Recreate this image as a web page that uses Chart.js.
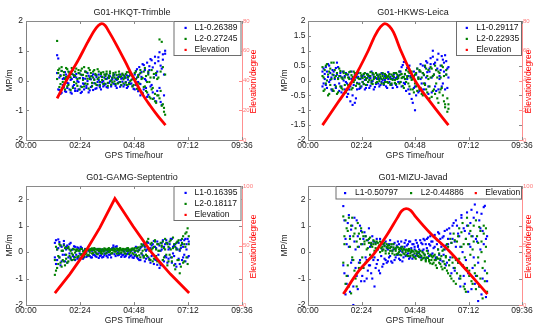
<!DOCTYPE html>
<html><head><meta charset="utf-8">
<script src="https://cdn.jsdelivr.net/npm/chart.js@4.4.1/dist/chart.umd.min.js"></script>
<style>
html,body{margin:0;padding:0;background:#fff;}
#wrap{position:relative;width:550px;height:331px;overflow:hidden;background:#fff;}
canvas{position:absolute;}
</style></head><body>
<div id="wrap">
<canvas id="c1" width="275" height="165" style="left:0;top:0"></canvas>
<canvas id="c2" width="275" height="165" style="left:275px;top:0"></canvas>
<canvas id="c3" width="275" height="166" style="left:0;top:165px"></canvas>
<canvas id="c4" width="275" height="166" style="left:275px;top:165px"></canvas>
</div>
<script>
// ---------- shared axis ticks ----------
const timeTicks = [0,144,288,432,576];               // minutes
const timeLabels = ['00:00','02:24','04:48','07:12','09:36'];
const mpTicksA = [-2,-1,0,1,2];
const mpLabelsA = ['-2','-1','0','1','2'];
const mpTicksB = [-2,-1.5,-1,-0.5,0,0.5,1,1.5,2];
const mpLabelsB = ['-2','-1.5','-1','-0.5','0','0.5','1','1.5','2'];
const elevTicksA = [0,20,40,60,80];
const elevTicksB = [0,50,100];

// ---------- HKQT (Trimble) ----------
const hkqtTitle = 'G01-HKQT-Trimble';
const hkqtLabels = ['L1-0.26389','L2-0.27245'];
const hkqtT = [83,86,89,92,95,98,101,104,107,110,113,116,119,122,125,128,131,134,137,140,143,146,149,152,155,158,161,164,167,170,173,176,179,182,185,188,191,194,197,200,203,206,209,212,215,218,221,224,227,230,233,236,239,242,245,248,251,254,257,260,263,266,269,272,275,278,281,284,287,290,293,296,299,302,305,308,311,314,317,320,323,326,329,332,335,338,341,344,347,350,353,356,359,362,365,368,371];
const hkqtL1 = [.85,.74,-.32,.18,-.41,.05,-.22,.28,-.38,-.08,
 .15,-.3,.02,-.44,.2,-.15,-.27,.1,-.35,-.05,
 .24,-.2,-.38,.08,-.12,.3,-.25,-.02,.16,-.33,
 .04,-.18,.21,-.09,-.28,.12,-.16,.02,-.23,.14,
 -.06,-.2,.1,-.12,.05,-.24,.17,-.03,-.15,.08,
 -.1,.2,-.18,.02,-.08,.13,-.21,.06,-.04,.18,
 -.14,.09,-.25,.03,.15,-.11,.22,-.19,.07,-.3,
 .32,.1,-.36,.45,-.12,.28,-.42,.52,.05,-.25,
 .6,-.48,.35,.72,-.15,.44,-.6,.8,.18,-.35,
 .65,.95,-.72,.4,.88,-.5,1.0];
const hkqtL1b = [.25,-.3,.1,-.45,.32,-.15,.08,-.36,.2,-.25,
 -.1,.28,-.4,.05,-.2,.12,-.35,.22,-.02,-.3,
 .08,-.42,.18,-.1,-.3,.06,-.18,.25,-.4,.1,
 -.22,.15,-.32,.04,.18,-.26,-.05,.2,-.14,-.3,
 .12,-.02,-.16,.2,-.22,.09,-.08,.14,-.2,.03,
 .16,-.12,.05,-.25,.1,-.06,.2,-.15,.08,-.2,
 .12,-.05,.17,-.2,-.08,.24,-.1,.05,-.28,.2,
 -.15,.38,-.05,.2,-.5,.12,.55,-.3,.35,0,
 -.55,.25,.48,-.2,.68,-.4,.1,.58,-.7,.3,
 .78,-.25,.5,-.82,.7,.2,.9];
const hkqtL2 = [1.33,.25,.4,-.12,.32,-.25,.18,.05,.42,-.2,
 .3,.12,-.32,.22,.36,-.05,.15,.4,-.18,.25,
 .08,.33,-.22,.19,.45,-.1,.28,.06,-.27,.35,
 .14,-.08,.3,.02,.22,-.15,.38,.1,-.05,.26,
 .12,-.12,.2,.05,.3,-.08,.15,.24,-.14,.1,
 .18,-.03,.27,.07,-.1,.2,.12,-.16,.23,.04,
 .15,-.07,.28,.1,-.12,.2,.02,.16,-.15,.25,
 .05,-.28,.18,-.1,.35,-.4,.08,-.22,.42,-.35,
 -.05,.3,-.55,.1,-.3,-.62,.22,-.45,-.75,.05,
 -.5,1.38,-.35,1.3,-.8,-.92,-1.15];
const hkqtL2b = [.05,.35,-.22,.15,.45,-.05,.28,-.3,.12,.38,
 -.15,.25,.1,.42,-.25,.18,.3,-.1,.05,.35,
 -.3,.2,.4,.02,-.2,.3,.15,-.12,.42,.05,
 .25,-.2,.1,.35,-.1,.18,.05,.3,-.18,.22,
 .02,.28,-.1,.15,.22,-.18,.08,.3,0,-.06,
 .25,.1,-.12,.18,.05,.3,-.05,.14,.2,-.1,
 .08,.22,-.15,.12,.28,-.02,.18,-.2,.1,.02,
 .3,-.15,.12,-.32,.25,.05,-.45,.3,-.2,.15,
 -.4,.2,-.05,-.6,.35,-.25,.1,-.7,.25,-.5,
 .1,-.6,.3,-.85,.45,-1.05,.2];
const hkqtElevT = [83,110,140,165,182,193,202,211,222,240,264,288,310,330,352,372];
const hkqtElevD = [28,41,54,66,73.5,77,78.3,77,72.5,64.5,53,41,31,23.5,16,10];

// ---------- HKWS (Leica) ----------
const hkwsTitle = 'G01-HKWS-Leica';
const hkwsLabels = ['L1-0.29117','L2-0.22935'];
const hkwsT = [39,42,45,48,51,54,57,60,63,66,69,72,75,78,81,84,87,90,93,96,99,102,105,108,111,114,117,120,123,126,129,132,135,138,141,144,147,150,153,156,159,162,165,168,171,174,177,180,183,186,189,192,195,198,201,204,207,210,213,216,219,222,225,228,231,234,237,240,243,246,249,252,255,258,261,264,267,270,273,276,279,282,285,288,291,294,297,300,303,306,309,312,315,318,321,324,327,330,333,336,339,342,345,348,351,354,357,360,363,366,369,372,375,378];
const hkwsL1 = [.3,-.1,.22,.45,-.25,.12,.5,.02,-.3,.35,
 .18,-.15,.42,.6,.08,-.35,.25,-.2,.1,-.45,
 .15,-.05,-.55,.2,-.3,-.7,.05,-.82,-.15,.18,
 -.6,-.08,.12,-.28,.05,-.2,.15,-.12,.02,-.25,
 .22,-.05,.1,-.18,.3,-.02,.12,-.22,.08,.2,
 -.1,.05,-.15,.25,.02,-.08,.15,-.2,.1,.28,
 -.05,.12,-.15,.05,.2,-.1,.08,-.22,.15,.3,
 -.05,.45,.1,.62,-.12,.35,.05,-.3,.5,.15,
 -.62,.08,-.25,-1.0,.2,-.15,-.4,.3,.05,-.3,
 .5,.18,-.1,.65,.28,-.45,.4,.75,.1,1.0,
 .55,-.2,.35,.7,-.3,.15,.5,.82,-.1,.6,
 .85,.2,-.25,.45];
const hkwsL1b = [-.2,.4,.05,-.15,.3,.55,-.05,.25,.1,-.35,
 .3,.05,-.25,.2,.45,-.1,.15,-.4,.3,0,
 -.3,.25,-.1,-.45,.1,-.2,.3,-.5,.05,-.75,
 .1,-.3,.25,-.1,-.25,.15,-.05,.2,-.3,.05,
 -.15,.15,-.25,.08,-.05,.2,-.3,.1,-.12,.05,
 .15,-.2,.08,-.05,.22,-.15,.02,.12,-.25,.05,
 .2,-.12,.05,-.25,.1,.25,-.15,.12,-.05,.18,
 .3,-.2,.52,-.08,.2,-.35,.42,.15,-.45,.25,
 .1,-.75,.3,-.2,-.5,.4,.1,-.35,.55,-.1,
 .25,-.3,.45,.1,.6,-.2,.3,.55,-.4,.8,
 .2,.6,-.35,.4,.9,.05,.35,-.2,.7,.3,
 -.3,.65,.4,.1];
const hkwsL2 = [.15,-.35,.35,-.1,.55,.2,-.45,.4,.05,-.3,
 .6,.1,-.2,.25,-.4,.15,.32,-.25,.05,.3,
 -.15,.22,-.32,.1,.28,-.1,.18,-.25,.3,.02,
 -.18,.2,.08,-.12,.25,.1,-.05,.22,.12,-.15,
 .08,.2,.02,.15,-.1,.25,.05,.12,-.08,.18,
 .1,-.02,.2,.05,.15,-.12,.22,.08,-.05,.15,
 .1,-.15,.2,.02,.12,-.08,.25,.05,.15,-.1,
 .2,.08,-.18,.12,.22,-.05,.15,.3,-.2,.1,
 .02,-.3,.15,-.1,.25,-.35,.05,.35,-.25,.1,
 -.5,.2,-.15,.4,-.4,.05,-.2,.45,-.55,.15,
 -.3,.5,-.1,-.6,.3,-.4,.1,-.25,.45,-.7,
 -.9,.2,-1.05,-.8];
const hkwsL2b = [.45,.1,-.3,.5,0,-.5,.3,-.15,.6,.2,
 -.35,.35,.15,-.45,.05,.4,-.2,.1,-.3,.25,
 .1,-.4,.2,-.15,.05,.3,-.3,.12,-.05,.25,
 .15,-.1,.3,.05,-.2,.18,.08,-.12,.25,.02,
 .2,-.05,.15,.28,0,-.12,.2,.1,.25,-.05,
 .05,.2,.12,-.1,.25,.08,-.05,.18,.12,-.08,
 .22,.05,-.1,.15,.25,.02,-.12,.2,.08,.3,
 -.05,.22,.12,-.25,.05,.35,.1,-.1,.25,-.3,
 .3,.05,-.4,.2,-.2,.4,.1,-.3,.3,-.45,
 .25,-.1,.5,-.3,.15,.35,-.6,.1,.4,-.35,
 .2,-.45,.35,.1,-.75,.25,-.3,.5,-.5,.15,
 -.8,.35,-.6,-.95];
const hkwsElevT = [39,80,120,162,180,195,207,219,230,250,288,331,378];
const hkwsElevD = [10,25,40,60,70,76,78.3,76.5,72.5,60,40,25,10];

// ---------- GAMG (Septentrio) ----------
const gamgTitle = 'G01-GAMG-Septentrio';
const gamgLabels = ['L1-0.16395','L2-0.18117'];
const gamgT = [77,80,83,86,89,92,95,98,101,104,107,110,113,116,119,122,125,128,131,134,137,140,143,146,149,152,155,158,161,164,167,170,173,176,179,182,185,188,191,194,197,200,203,206,209,212,215,218,221,224,227,230,233,236,239,242,245,248,251,254,257,260,263,266,269,272,275,278,281,284,287,290,293,296,299,302,305,308,311,314,317,320,323,326,329,332,335,338,341,344,347,350,353,356,359,362,365,368,371,374,377,380,383,386,389,392,395,398,401,404,407,410,413,416,419,422,425,428,431,434];
const gamgL1 = [.35,-.45,.1,.48,-.2,.25,-.35,.05,.42,-.1,
 .2,-.4,.15,.3,-.25,.08,-.15,.22,-.3,.05,
 .18,-.2,.1,-.08,.15,-.25,.02,.12,-.18,.08,
 -.12,.1,-.2,.05,-.1,.12,-.15,-.05,.08,-.22,
 .02,-.12,.1,-.18,-.05,.06,-.15,.02,-.1,.08,
 -.2,.15,.25,-.08,.2,.05,-.12,.1,-.05,-.18,
 .08,-.1,.02,-.15,.12,-.05,-.2,.05,-.12,.1,
 -.22,0,-.1,.15,-.25,.08,-.3,.2,-.12,.3,
 -.35,.05,.38,-.2,.12,-.4,.25,-.1,.42,-.28,
 .15,-.48,.3,-.6,.05,.35,-.3,.2,-.15,.45,
 -.4,.1,.3,-.2,.5,-.05,.25,-.45,.15,.38,
 -.25,.05,.45,-.3,.2,-.1,.5,.3,-.2,.4];
const gamgL1b = [-.2,.45,-.3,.15,.38,-.5,.2,-.1,.3,-.35,
 .1,.25,-.2,-.05,.35,-.3,.12,-.18,.2,-.1,
 -.25,.15,-.05,.2,-.15,.05,-.2,.1,.02,-.15,
 .05,-.15,.08,-.2,.1,-.1,.02,-.18,.12,-.05,
 -.15,.08,-.2,.05,-.12,.1,-.05,-.2,.06,-.1,
 .1,-.05,.18,.08,-.15,.22,-.02,-.1,.12,-.06,
 -.12,.05,-.18,.1,-.08,.02,.08,-.15,.05,-.2,
 .1,-.15,.2,-.2,.05,-.3,.15,-.05,.25,-.2,
 .2,-.25,.1,.35,-.3,.15,-.15,.3,-.45,.2,
 -.3,.4,-.1,.25,-.5,.1,.45,-.35,.3,-.2,
 .35,-.25,.15,.5,-.4,.2,-.15,.3,-.55,.1,
 .35,-.45,.15,.3,-.2,.45,-.35,.1,.5,-.15];
const gamgL2 = [-.86,.2,-.6,-.15,.3,-.4,.05,-.3,.25,-.5,
 -.1,.15,-.35,.1,-.2,-.05,.12,-.28,-.02,.1,
 -.18,.05,-.25,.12,-.08,.02,-.15,.1,-.05,.08,
 -.12,.05,.12,-.05,.08,.15,0,.1,-.08,.12,
 .05,-.04,.1,.02,.14,-.06,.08,.12,0,.1,
 -.05,.08,.14,.02,.1,-.06,.12,.05,.15,-.02,
 .08,.12,-.05,.1,.04,.15,-.08,.06,.12,-.04,
 .1,.05,-.1,.14,.02,-.12,.2,-.05,.25,-.2,
 .1,.32,-.15,.5,.05,-.3,.35,.15,-.25,.4,
 .1,-.35,.3,.05,-.45,.25,.4,-.2,.1,.35,
 -.5,.2,-.1,.45,-.35,.15,.3,-.65,.1,.4,
 -.3,-.8,.25,.5,-.4,.3,.7,-.2,.9,.6];
const gamgL2b = [-.3,-.7,.1,-.45,-.2,.25,-.55,.05,-.35,.15,
 -.25,-.4,.2,-.15,.05,-.3,-.1,.1,-.2,.05,
 .1,-.15,.05,-.1,.12,-.2,.05,-.08,.1,-.12,
 .1,-.02,.08,.14,-.04,.06,.12,-.06,.1,.04,
 .12,.02,-.06,.1,.05,.12,-.02,.08,.15,.04,
 .1,-.04,.06,.12,.02,.14,.08,-.05,.1,.06,
 .12,.02,.1,-.06,.14,.05,.1,-.02,.08,.14,
 -.08,.15,.05,-.15,.18,.1,-.2,.3,.05,-.15,
 .25,-.1,.4,.15,-.25,.3,.1,-.35,.2,.45,
 -.15,.3,.05,-.4,.35,.2,-.3,.15,.5,-.1,
 .3,-.35,.4,.1,-.2,.55,-.5,.2,.35,-.3,
 .45,.1,-.55,.35,.6,-.35,.2,.75,-.45,.3];
const gamgElevT = [77,117,157,197,237,286,335,385,435];
const gamgElevD = [10,26,44,65,89.5,66,44,26,10];

// ---------- MIZU (Javad) ----------
const mizuTitle = 'G01-MIZU-Javad';
const mizuLabels = ['L1-0.50797','L2-0.44886'];
const mizuT = [95,98,101,104,107,110,113,116,119,122,125,128,131,134,137,140,143,146,149,152,155,158,161,164,167,170,173,176,179,182,185,188,191,194,197,200,203,206,209,212,215,218,221,224,227,230,233,236,239,242,245,248,251,254,257,260,263,266,269,272,275,278,281,284,287,290,293,296,299,302,305,308,311,314,317,320,323,326,329,332,335,338,341,344,347,350,353,356,359,362,365,368,371,374,377,380,383,386,389,392,395,398,401,404,407,410,413,416,419,422,425,428,431,434,437,440,443,446,449,452,455,458,461,464,467,470,473,476,479,482];
const mizuL1 = [1.74,-.8,.5,-1.2,1.1,.2,-1.5,.85,-.3,-2.0,
 1.3,.1,-.9,.6,-.4,1.0,-1.1,.3,-.6,.75,
 -.2,-1.0,.45,-.5,.2,-.8,.6,-.3,-1.3,.35,
 -.45,.1,-.7,.5,-.15,-.55,.3,-.25,.4,-.4,
 .1,-.2,.45,-.35,.05,.3,-.3,.15,-.1,.4,
 -.25,.05,.2,-.35,.1,.35,-.15,.25,-.05,.4,
 -.2,.15,.3,-.1,.2,.45,-.05,.25,.1,-.2,
 .35,.05,.5,-.1,.3,.15,.55,-.15,.25,.4,
 -.05,.6,.2,-.25,.45,.1,.7,-.3,.3,.55,
 -.1,.8,.25,-.4,.5,.9,-.2,.35,1.0,-.6,
 .4,1.2,-.3,.7,-1.0,.2,1.3,-.5,.9,-1.2,
 .5,1.5,-.8,.3,1.1,-1.4,.6,-.2,1.8,-.9,
 .4,-1.85,1.2,.1,-1.6,.8,1.7,-.7,.5,-1.1];
const mizuL1b = [-.5,1.2,-1.6,.3,-.9,1.4,.6,-.4,1.0,-1.3,
 .4,-.6,1.2,-1.4,.2,-.3,.8,-.9,.5,-1.1,
 .6,-.3,-.7,.9,-.5,.3,-1.0,.4,-.2,-.6,
 .5,-.3,.2,-.8,.35,.1,-.45,.25,-.3,.15,
 -.35,.3,-.15,.2,-.4,.1,.35,-.2,.25,-.1,
 .3,-.3,.4,0,-.2,.2,.45,-.1,.3,-.25,
 .4,0,-.25,.3,.1,-.15,.35,.2,-.05,.45,
 -.2,.3,.1,.45,-.25,.5,.05,.3,.6,-.1,
 .4,.15,.65,-.2,.3,.75,-.1,.5,.2,-.35,
 .6,.1,-.5,.85,.3,-.3,.7,-.8,.5,1.1,
 -.7,.2,1.0,-.4,.6,-1.3,1.4,0,-.9,.8,
 -.3,1.0,-1.5,.7,.2,1.6,-.6,1.3,-1.2,.5,
 1.5,-.4,-1.3,.9,1.45,-1.0,.3,1.75,-1.7,.6];
const mizuL2 = [1.35,.6,-1.2,.9,-.5,1.3,.2,-1.56,1.3,-.3,
 .7,-1.0,.4,1.1,-.6,.5,.9,-.2,.6,.3,
 -.4,.45,.15,.5,-.1,.35,.2,.45,.05,.3,
 .4,.15,.25,0,.3,.2,.1,.35,.05,.2,
 .25,-.05,.15,.3,.05,.18,-.1,.12,.2,-.05,
 .1,.15,-.12,.05,.12,-.08,0,.1,-.15,.05,
 -.05,.08,-.12,.02,-.2,.05,-.1,-.02,-.18,.05,
 -.15,-.25,-.05,-.2,-.3,.05,-.22,-.35,-.1,-.3,
 -.45,-.15,-.3,-.5,-.2,.1,-.4,-.25,-.55,.05,
 -.35,-.6,-.15,.3,-.8,-.3,.5,-1.0,-.2,.7,
 -.6,-1.2,.4,-.4,.9,-.9,.2,1.1,-1.3,-.2,
 -1.5,1.3,.3,-.7,.8,-1.1,.1,1.0,-.5,-1.4,
 .6,-.2,.95,-1.0,.4,-1.75,.7,-.35,.9,-1.5];
const mizuL2b = [-.4,.3,1.2,-.9,.8,-1.3,.5,1.0,-.2,.6,
 -.7,.9,-1.3,.2,.7,-.4,.3,.75,-.6,.4,
 .6,.1,-.3,.35,.55,.25,-.2,.3,.4,.15,
 .1,.35,.2,.4,.15,.05,.3,.22,-.05,.3,
 .15,.25,.05,.2,-.05,.3,.12,.05,-.08,.18,
 0,-.1,.12,.2,-.05,.1,.08,-.12,.05,.12,
 -.15,0,.05,-.18,-.05,-.25,.02,-.15,0,-.1,
 -.3,0,-.22,-.1,-.35,-.2,-.05,-.3,-.42,-.15,
 -.2,-.4,-.1,-.3,-.6,-.25,-.05,-.45,-.15,-.65,
 .1,-.45,-.2,-.7,.2,-.5,-.9,.35,-.4,-1.1,
 .45,-.3,-.8,.6,-.25,-1.0,.75,-.5,.3,-1.4,
 .5,-.6,1.0,-.9,-.1,.6,-1.2,.4,-.8,1.2,
 -.9,.35,-1.3,.8,0,-.6,1.0,-1.1,.2,-.8];
const mizuElevT = [95,135,180,215,240,252,264,276,290,330,378,430,483];
const mizuElevD = [9.2,28,44,60,73,79,81,79.5,74,60,46,28,9.2];

// ---------- rendering ----------
const FONT = '"Liberation Sans", Arial, Helvetica, sans-serif';
const TXT = 8.5;
function pairs(xs, ys){ return ys.map((v,i)=>({x:xs[i], y:v})); }

const decor = {
  id:'decor',
  afterDraw(chart, args, o){
    const {ctx, chartArea:a, scales} = chart;
    ctx.save();
    ctx.lineWidth = 1;
    ctx.strokeStyle = '#8a8a8a';
    ctx.beginPath();
    const ty = Math.round(a.top)+0.5;
    ctx.moveTo(a.left, ty); ctx.lineTo(a.right, ty);
    ctx.stroke();
    const L = 3;
    ctx.beginPath();
    scales.x.ticks.forEach(t=>{
      const p = Math.round(scales.x.getPixelForValue(t.value))+0.5;
      ctx.moveTo(p,a.bottom); ctx.lineTo(p,a.bottom-L);
      ctx.moveTo(p,a.top); ctx.lineTo(p,a.top+L);
    });
    scales.y.ticks.forEach(t=>{
      const p = Math.round(scales.y.getPixelForValue(t.value))+0.5;
      ctx.moveTo(a.left,p); ctx.lineTo(a.left+L,p);
      ctx.moveTo(a.right,p); ctx.lineTo(a.right-L,p);
    });
    ctx.stroke();
    ctx.strokeStyle = '#ff8c8c';
    ctx.beginPath();
    scales.y1.ticks.forEach(t=>{
      const p = Math.round(scales.y1.getPixelForValue(t.value))+0.5;
      ctx.moveTo(a.right,p); ctx.lineTo(a.right-L,p);
    });
    ctx.stroke();
    // legend
    const lg = o.legend;
    ctx.fillStyle = '#fff';
    ctx.fillRect(lg.box[0], lg.box[1], lg.box[2], lg.box[3]);
    ctx.strokeStyle = '#6e6e6e';
    ctx.strokeRect(lg.box[0]+0.5, lg.box[1]+0.5, lg.box[2]-1, lg.box[3]-1);
    ctx.font = TXT + 'px ' + FONT;
    ctx.textBaseline = 'middle';
    ctx.textAlign = 'left';
    chart.data.datasets.forEach((ds,i)=>{
      const it = lg.items[i];
      ctx.fillStyle = ds.legendColor;
      ctx.fillRect(it[0]-1, it[2]-1, 2.2, 2.2);
      ctx.fillStyle = '#111';
      ctx.fillText(ds.label, it[1], it[2]);
    });
    // title
    ctx.font = '9px ' + FONT;
    ctx.textAlign = 'center';
    ctx.fillStyle = '#1a1a1a';
    ctx.fillText(o.title, (a.left+a.right)/2 - 2, o.titleY);
    // right axis title
    ctx.translate(o.rightTitleX, (a.top+a.bottom)/2 + 1);
    ctx.rotate(-Math.PI/2);
    ctx.fillStyle = '#ff0000';
    ctx.font = TXT + 'px ' + FONT;
    ctx.fillText('Elevation/degree', 0, 0);
    ctx.restore();
  }
};

function buildChart(id, c){
  const canvas = document.getElementById(id);
  const W = canvas.width, H = canvas.height;
  const A = c.area;
  const f9 = {family: FONT, size: TXT};
  return new Chart(canvas, {
    type: 'scatter',
    data: { datasets: [
      {label:c.labels[0], data:pairs(c.t, c.l1).concat(pairs(c.t, c.l1b)), pointBackgroundColor:'#0000ff', backgroundColor:'#0000ff', legendColor:'#0000ff',
       pointStyle:'rect', pointRadius:1.5, pointBorderWidth:0, yAxisID:'y', order:3},
      {label:c.labels[1], data:pairs(c.t, c.l2).concat(pairs(c.t, c.l2b)), pointBackgroundColor:'#008000', backgroundColor:'#008000', legendColor:'#008000',
       pointStyle:'rect', pointRadius:1.5, pointBorderWidth:0, yAxisID:'y', order:2},
      {label:'Elevation', type:'line', data:pairs(c.et, c.ed), borderColor:'#ff0000', backgroundColor:'#ff0000', legendColor:'#ff0000',
       borderWidth:2.8, pointRadius:0, fill:false, tension:c.smooth?0.4:0,
       cubicInterpolationMode:c.smooth?'monotone':'default', yAxisID:'y1', order:1}
    ]},
    options: {
      responsive:false, animation:false, events:[], devicePixelRatio:1,
      layout:{padding:{top:A.t, left:0, right:0, bottom:0}},
      plugins:{legend:{display:false}, tooltip:{enabled:false}, title:{display:false},
        decor:{legend:c.legend, title:c.title, titleY:12.5, rightTitleX:254}},
      scales:{
        x:{type:'linear', min:0, max:576,
           afterBuildTicks:s=>{s.ticks = timeTicks.map(v=>({value:v}));},
           afterFit:s=>{s.height = H - A.b;},
           ticks:{callback:(v,i)=>timeLabels[i], font:f9, color:'#1a1a1a', padding:1, maxRotation:0, autoSkip:false},
           grid:{display:false, drawTicks:false}, border:{display:true, color:'#808080', width:1},
           title:{display:true, text:'GPS Time/hour', font:f9, color:'#1a1a1a', padding:{top:0, bottom:c.xTitlePad}}},
        y:{type:'linear', position:'left', min:c.yMin, max:c.yMax,
           afterBuildTicks:s=>{s.ticks = c.yTicks.map(v=>({value:v}));},
           afterFit:s=>{s.width = A.l;},
           ticks:{callback:(v,i)=>c.yLabels[i], font:f9, color:'#1a1a1a', padding:c.yPad, autoSkip:false},
           grid:{display:false, drawTicks:false}, border:{display:true, color:'#808080', width:1},
           title:{display:true, text:'MP/m', font:f9, color:'#1a1a1a', padding:{top:5, bottom:0}}},
        y1:{type:'linear', position:'right', min:0, max:c.eMax,
           afterBuildTicks:s=>{s.ticks = c.eTicks.map(v=>({value:v}));},
           afterFit:s=>{s.width = W - A.r;},
           ticks:{font:{family:FONT, size:6}, color:'#ff7a7a', padding:1, autoSkip:false},
           grid:{display:false, drawTicks:false}, border:{display:true, color:'#ff9090', width:1}}
      }
    },
    plugins:[decor]
  });
}

buildChart('c1', {title:hkqtTitle, labels:hkqtLabels, t:hkqtT, l1:hkqtL1, l1b:hkqtL1b, l2:hkqtL2, l2b:hkqtL2b, et:hkqtElevT, ed:hkqtElevD, smooth:true,
  area:{l:26, r:242, t:21, b:140}, yMin:-2, yMax:2, yTicks:mpTicksA, yLabels:mpLabelsA, yPad:3, eMax:80, eTicks:elevTicksA, xTitlePad:4.6,
  legend:{box:[173.5,21,68,35], items:[[185.5,194.5,27.8],[185.5,194.5,38.8],[185.5,194.5,49.8]]}});
buildChart('c2', {title:hkwsTitle, labels:hkwsLabels, t:hkwsT, l1:hkwsL1, l1b:hkwsL1b, l2:hkwsL2, l2b:hkwsL2b, et:hkwsElevT, ed:hkwsElevD, smooth:true,
  area:{l:33, r:247, t:21, b:140}, yMin:-2, yMax:2, yTicks:mpTicksB, yLabels:mpLabelsB, yPad:2.5, eMax:80, eTicks:elevTicksA, xTitlePad:4.6,
  legend:{box:[181,21,66,35], items:[[191.7,201.2,27.8],[191.7,201.2,38.8],[191.7,201.2,49.8]]}});
buildChart('c3', {title:gamgTitle, labels:gamgLabels, t:gamgT, l1:gamgL1, l1b:gamgL1b, l2:gamgL2, l2b:gamgL2b, et:gamgElevT, ed:gamgElevD, smooth:false,
  area:{l:26, r:242, t:21, b:140}, yMin:-2, yMax:2.5, yTicks:mpTicksA, yLabels:mpLabelsA, yPad:3, eMax:100, eTicks:elevTicksB, xTitlePad:5.6,
  legend:{box:[173.5,21,68,35], items:[[185.5,194.5,27.8],[185.5,194.5,38.8],[185.5,194.5,49.8]]}});
buildChart('c4', {title:mizuTitle, labels:mizuLabels, t:mizuT, l1:mizuL1, l1b:mizuL1b, l2:mizuL2, l2b:mizuL2b, et:mizuElevT, ed:mizuElevD, smooth:true,
  area:{l:33, r:247, t:21, b:140}, yMin:-2, yMax:2.5, yTicks:mpTicksA, yLabels:mpLabelsA, yPad:2.5, eMax:100, eTicks:elevTicksB, xTitlePad:5.6,
  legend:{box:[60.5,21,186.5,13.5], items:[[70,80,28],[136,145.7,28],[200.7,210.3,28]]}});
</script>
</body></html>
